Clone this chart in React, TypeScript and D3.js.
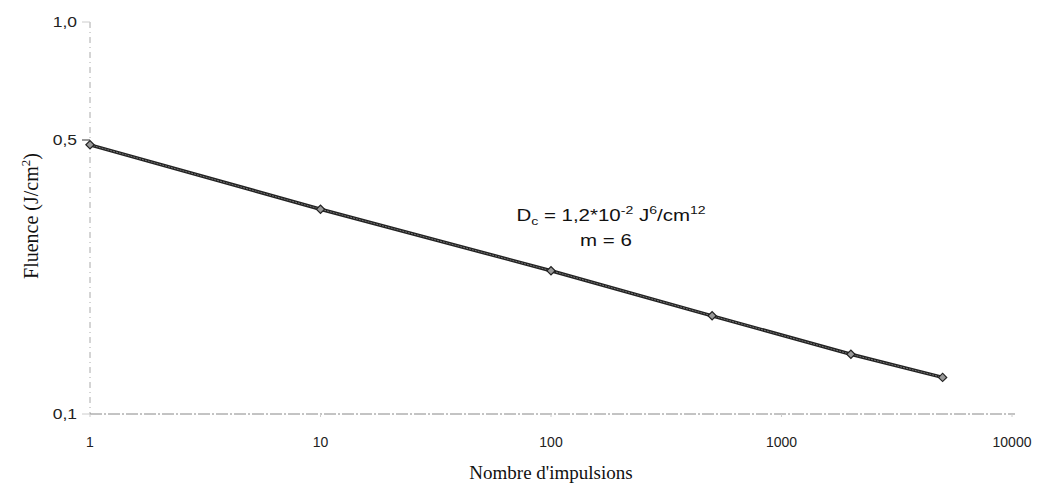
import { useEffect, useRef } from 'react';
import * as d3 from 'd3';

const PULSES = [1, 10, 100, 500, 2000, 5000];
const FLUENCE = [0.486, 0.333, 0.232, 0.178, 0.142, 0.124];
const Y_TICKS = [1, 0.5, 0.1];
const X_TICKS = [1, 10, 100, 1000, 10000];

const W = 1044, H = 490;
const M = { top: 22, right: 32, bottom: 76, left: 90 };
const fmt = (v: number) => v.toFixed(1).replace('.', ',');

export default function App() {
  const ref = useRef<SVGSVGElement>(null);
  useEffect(() => {
    const svg = d3.select(ref.current); svg.selectAll('*').remove();
    const x = d3.scaleLog().domain([1, 10000]).range([M.left, W - M.right]);
    const y = d3.scaleLog().domain([0.1, 1]).range([H - M.bottom, M.top]);
    const sans = 'Liberation Sans, Arial, sans-serif', serif = 'Liberation Serif, Times New Roman, serif';

    // axes, grey dashed like the scan
    svg.append('line').attr('x1', x(1)).attr('x2', x(1)).attr('y1', y(1)).attr('y2', y(0.1))
      .attr('stroke', '#aaa').attr('stroke-dasharray', '6,4,1,4');
    svg.append('line').attr('x1', x(1)).attr('x2', x(10000) + 3).attr('y1', y(0.1)).attr('y2', y(0.1))
      .attr('stroke', '#888').attr('stroke-dasharray', '12,2,2,2');

    svg.append('g').selectAll('line').data(Y_TICKS).join('line')
      .attr('x1', x(1) - 8).attr('x2', x(1)).attr('y1', d => y(d)).attr('y2', d => y(d))
      .attr('stroke', d => d === 0.5 ? '#333' : '#ccc');
    svg.append('g').selectAll('text').data(Y_TICKS).join('text')
      .attr('transform', d => `translate(${x(1) - 13},${y(d) + 5}) scale(1.25,1)`).attr('text-anchor', 'end')
      .attr('font-family', sans).attr('font-size', 14).attr('fill', '#222').text(fmt);

    svg.append('g').selectAll('line').data(X_TICKS).join('line')
      .attr('x1', d => x(d)).attr('x2', d => x(d)).attr('y1', y(0.1)).attr('y2', y(0.1) + 3)
      .attr('stroke', '#ccc');
    svg.append('g').selectAll('text').data(X_TICKS).join('text')
      .attr('x', d => x(d)).attr('y', y(0.1) + 33).attr('text-anchor', 'middle')
      .attr('font-family', sans).attr('font-size', 14).attr('fill', '#222').text(d => String(d));

    // series
    const pts = PULSES.map((p, i) => [x(p), y(FLUENCE[i])] as [number, number]);
    const line = d3.line();
    svg.append('path').attr('d', line(pts)).attr('fill', 'none').attr('stroke', '#222').attr('stroke-width', 3.5);
    svg.append('path').attr('d', line(pts)).attr('fill', 'none').attr('stroke', '#777').attr('stroke-width', 1).attr('stroke-dasharray', '2,1');
    const sym = d3.symbol().type(d3.symbolSquare).size(34);
    svg.append('g').selectAll('path').data(pts).join('path')
      .attr('transform', d => `translate(${d[0]},${d[1]}) rotate(45)`).attr('d', sym)
      .attr('fill', '#999').attr('stroke', '#222').attr('stroke-width', 1.2);

    // annotation (scan text is horizontally wide)
    const g = svg.append('g').attr('transform', 'translate(611,221) scale(1.28,1)');
    const ann = g.append('text').attr('text-anchor', 'middle')
      .attr('font-family', sans).attr('font-size', 16).attr('fill', '#111');
    ann.append('tspan').text('D');
    ann.append('tspan').attr('font-size', 11).attr('dy', 4).text('c');
    ann.append('tspan').attr('dy', -4).text(' = 1,2*10');
    ann.append('tspan').attr('font-size', 11).attr('dy', -7).text('-2');
    ann.append('tspan').attr('dy', 7).text(' J');
    ann.append('tspan').attr('font-size', 11).attr('dy', -7).text('6');
    ann.append('tspan').attr('dy', 7).text('/cm');
    ann.append('tspan').attr('font-size', 11).attr('dy', -7).text('12');
    svg.append('g').attr('transform', 'translate(606,246) scale(1.28,1)')
      .append('text').attr('text-anchor', 'middle')
      .attr('font-family', sans).attr('font-size', 16).attr('fill', '#111').text('m = 6');

    // titles
    svg.append('text').attr('x', 551).attr('y', 479).attr('text-anchor', 'middle')
      .attr('font-family', serif).attr('font-size', 19).attr('fill', '#111').text("Nombre d'impulsions");
    const yt = svg.append('text').attr('transform', 'translate(38,216) rotate(-90)').attr('text-anchor', 'middle')
      .attr('font-family', serif).attr('font-size', 20).attr('fill', '#111');
    yt.append('tspan').text('Fluence (J/cm');
    yt.append('tspan').attr('font-size', 13).attr('dy', -8).text('2');
    yt.append('tspan').attr('dy', 8).text(')');
  }, []);
  return (
    <>
      <style>{'body{margin:0;background:#fff}'}</style>
      <svg ref={ref} width={W} height={H} style={{ display: 'block' }} />
    </>
  );
}
